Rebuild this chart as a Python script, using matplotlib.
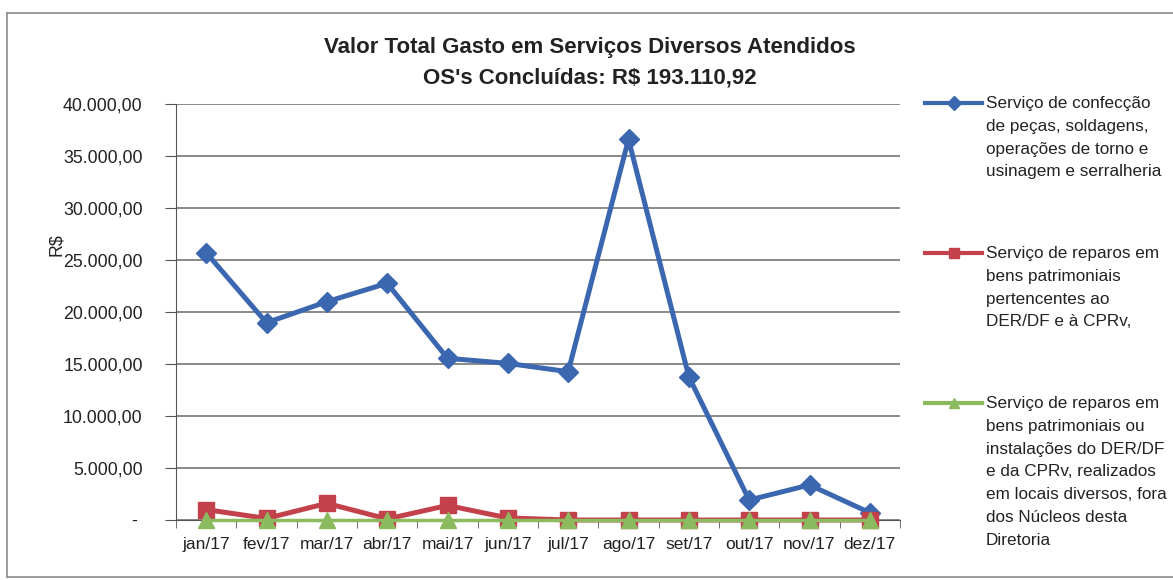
import matplotlib
matplotlib.use("Agg")
import matplotlib.pyplot as plt
from matplotlib.lines import Line2D
from matplotlib.ticker import FuncFormatter, FixedLocator

plt.rcParams['font.family'] = ['Liberation Sans', 'DejaVu Sans']

meses = ['jan/17', 'fev/17', 'mar/17', 'abr/17', 'mai/17', 'jun/17',
         'jul/17', 'ago/17', 'set/17', 'out/17', 'nov/17', 'dez/17']

confeccao = [25700, 18970, 20990, 22760, 15550, 15060,
             14260, 36600, 13780, 1920, 3370, 700]
reparos_bens = [1000, 150, 1600, 100, 1400, 200,
                0, 0, 0, 0, 0, 0]
reparos_locais = [0, 0, 0, 0, 0, 0, 0, 0, 0, 0, 0, 0]

legenda = [
    "Serviço de confecção\nde peças, soldagens,\noperações de torno e\nusinagem e serralheria",
    "Serviço de reparos em\nbens patrimoniais\npertencentes ao\nDER/DF e à CPRv,",
    "Serviço de reparos em\nbens patrimoniais ou\ninstalações do DER/DF\ne da CPRv, realizados\nem locais diversos, fora\ndos Núcleos desta\nDiretoria",
]

titulo = "Valor Total Gasto em Serviços Diversos Atendidos\nOS's Concluídas: R$ 193.110,92"

azul = '#3b67b0'
vermelho = '#c2414b'
verde = '#8cba5e'

W, H = 1173, 580
fig = plt.figure(figsize=(W / 100, H / 100), dpi=100)
fig.patch.set_facecolor('white')

# plot area in pixels
x0, x1, y0, y1 = 176, 900, 104, 520
ax = fig.add_axes([x0 / W, 1 - y1 / H, (x1 - x0) / W, (y1 - y0) / H])

x = list(range(len(meses)))
ax.plot(x, confeccao, color=azul, lw=3.6, marker='D', ms=10, mec=azul,
        zorder=3, clip_on=False)
ax.plot(x, reparos_bens, color=vermelho, lw=3.6, marker='s', ms=12, mec=vermelho,
        zorder=4, clip_on=False)
ax.plot(x, reparos_locais, color=verde, lw=2.5, marker='^', ms=12, mec=verde,
        zorder=5, clip_on=False)

ax.set_xlim(-0.5, 11.5)
ax.set_ylim(0, 40000)
ax.set_xticks(x)
ax.set_xticklabels(meses, fontsize=12.5, color='#222222')
ax.xaxis.set_minor_locator(FixedLocator([i - 0.5 for i in range(13)]))
ax.tick_params(axis='x', which='major', length=0, pad=12)
ax.tick_params(axis='x', which='minor', length=6, color='#555555', direction='out')

ax.set_yticks(range(0, 40001, 5000))


def fmt(v, pos):
    if v == 0:
        return '- '
    s = f"{v:,.2f}"
    return s.replace(',', 'X').replace('.', ',').replace('X', '.')


ax.yaxis.set_major_formatter(FuncFormatter(fmt))
ax.tick_params(axis='y', length=8, color='#555555', labelsize=12.8, labelcolor='#222222', pad=16)
ax.grid(axis='y', color='#6a6a6a', lw=1.1)
ax.set_axisbelow(True)
for s in ['top', 'right']:
    ax.spines[s].set_visible(False)
ax.spines['left'].set_color('#555555')
ax.spines['bottom'].set_color('#555555')

fig.text(57 / W, 1 - 245 / H, 'R$', rotation=90, fontsize=12.8, color='#222222',
         ha='center', va='center')

fig.text(590 / W, 1 - 63 / H, titulo, ha='center', va='center', fontsize=16,
         fontweight='bold', color='#222222', linespacing=1.6)

# legend drawn by hand so the handle sits at the first line
cores = [azul, vermelho, verde]
marcas = ['D', 's', '^']
ys = [103, 253, 403]
for cor, marca, yy, txt in zip(cores, marcas, ys, legenda):
    fy = 1 - yy / H
    fig.add_artist(Line2D([925 / W, 982 / W], [fy, fy], color=cor, lw=3))
    fig.add_artist(Line2D([953.5 / W], [fy], color=cor, marker=marca, ms=7, mec=cor))
    fig.text(986 / W, fy + 7 / H, txt, ha='left', va='top', fontsize=12.3,
             color='#222222', linespacing=1.65)

# outer frame
fr = '#8a8a8a'
fig.add_artist(Line2D([7 / W, 7 / W], [1 - 577 / H, 1 - 13 / H], color=fr, lw=1.2))
fig.add_artist(Line2D([7 / W, 1], [1 - 13 / H, 1 - 13 / H], color=fr, lw=1.2))
fig.add_artist(Line2D([7 / W, 1], [1 - 577 / H, 1 - 577 / H], color=fr, lw=1.2))

fig.savefig('out.png', dpi=100, facecolor='white')
